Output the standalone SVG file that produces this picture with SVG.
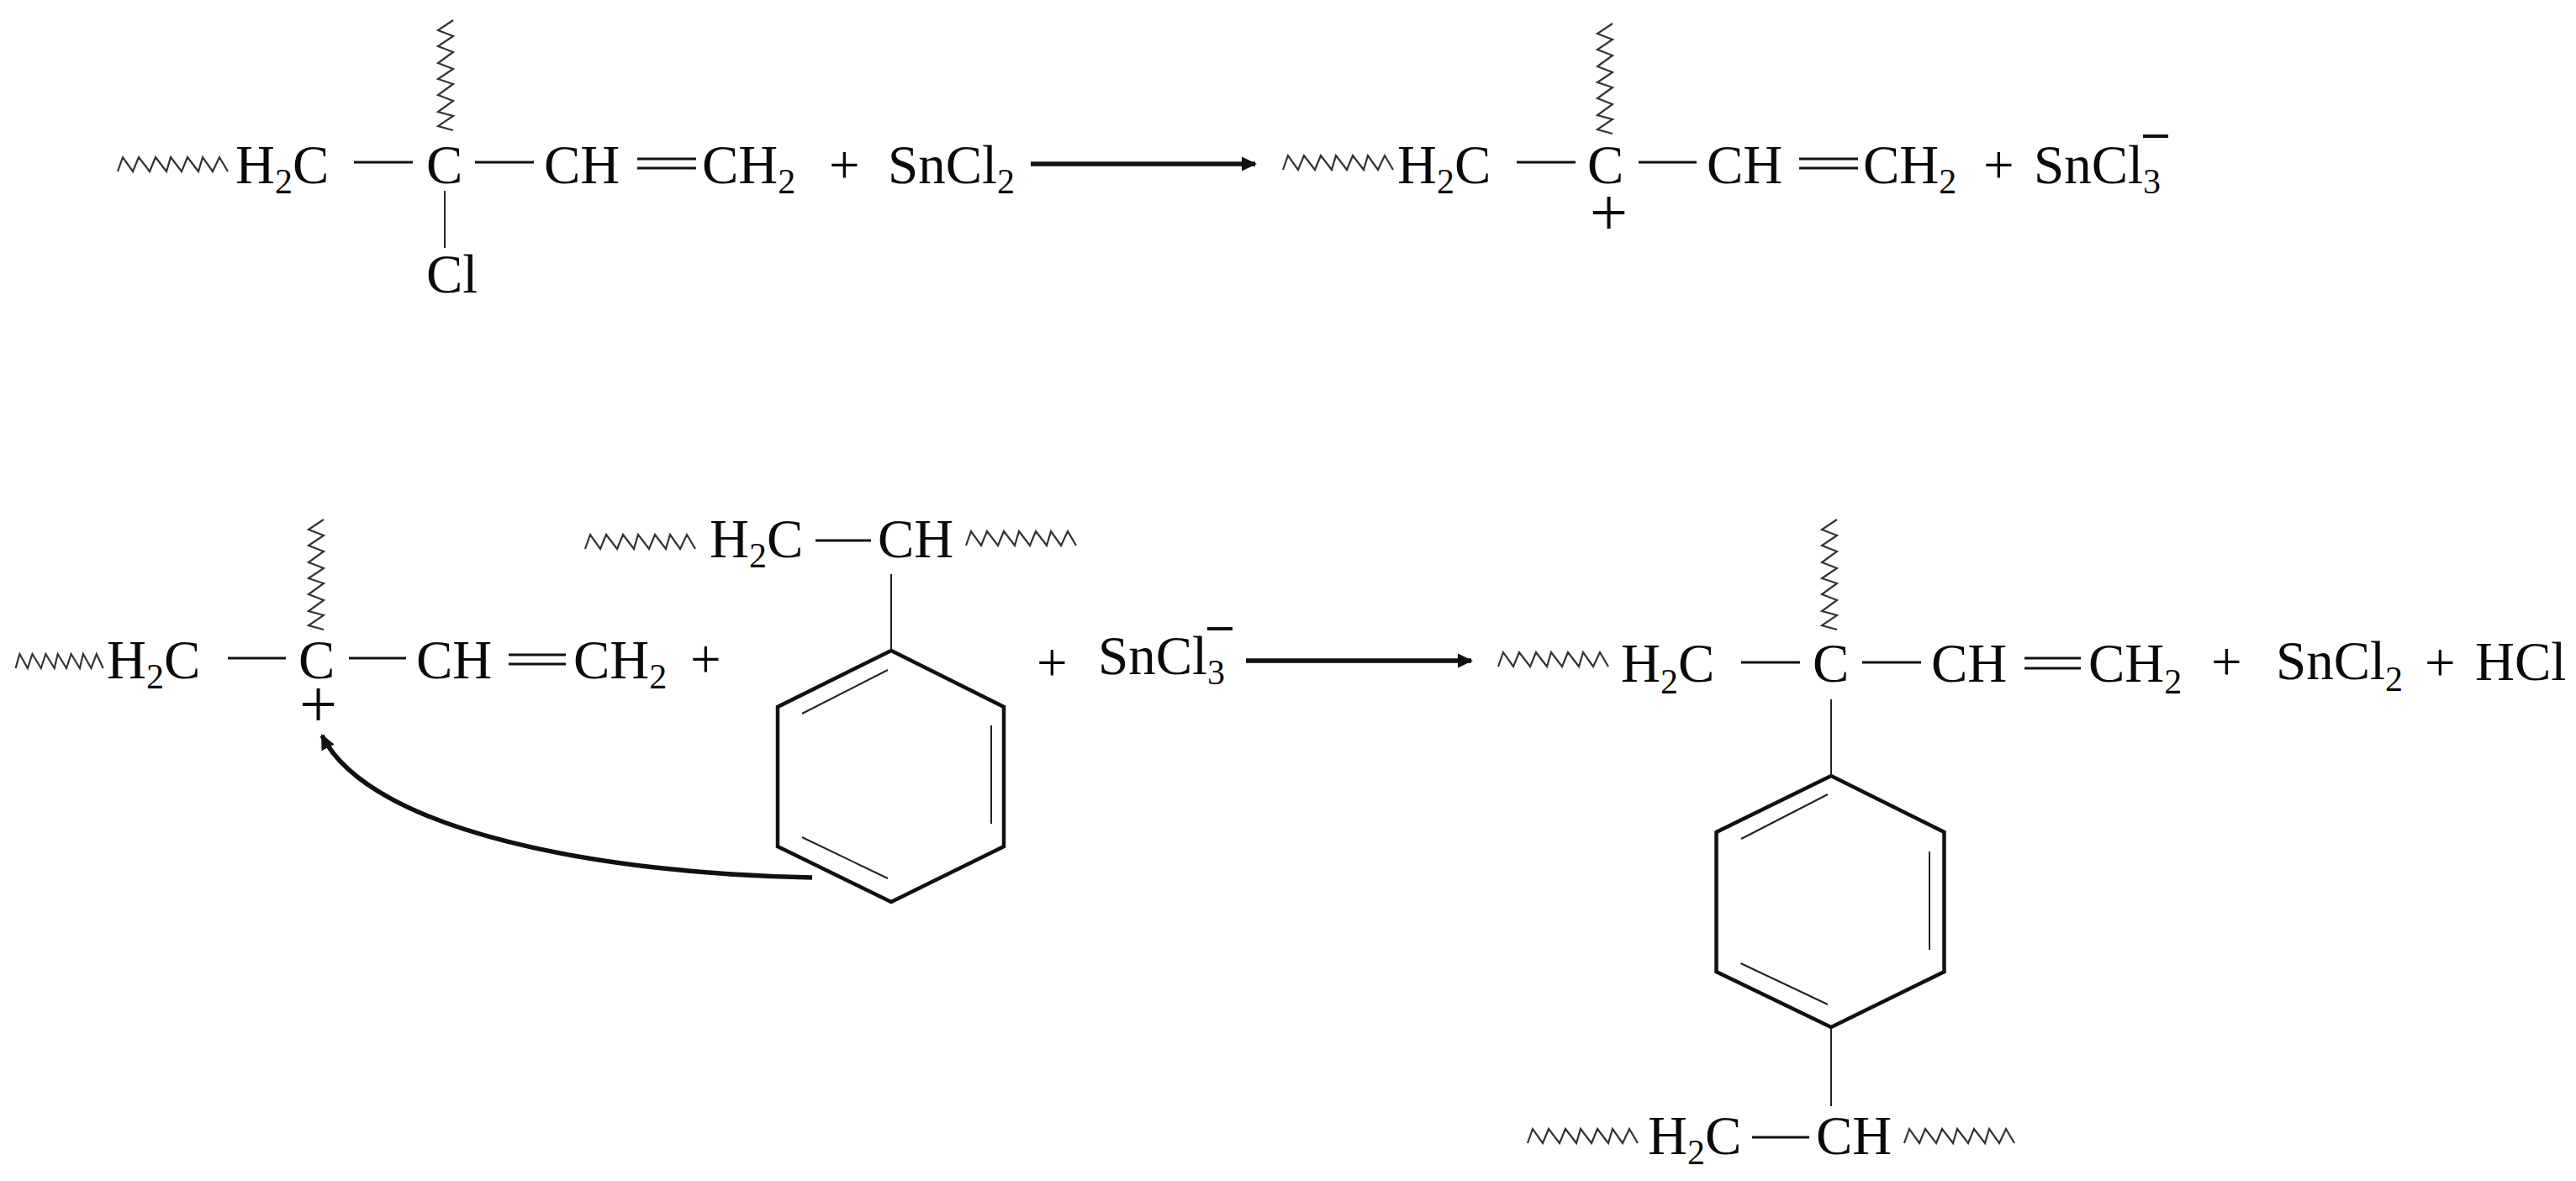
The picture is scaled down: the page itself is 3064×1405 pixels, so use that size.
<svg xmlns="http://www.w3.org/2000/svg" xmlns:xlink="http://www.w3.org/1999/xlink" width="3064" height="1405" viewBox="0 0 3064 1405">
<style>
text{font-family:"Liberation Serif","Times New Roman",serif;font-size:65px;fill:#0a0a0a}
.s{font-size:42px}
.p{font-size:80px}
.b{stroke:#111;stroke-width:3;fill:none}
.t{stroke:#222;stroke-width:2;fill:none}
.r{stroke:#111;stroke-width:4.5;fill:none;stroke-linejoin:miter}
.z{stroke:#333;stroke-width:2.2;fill:none;vector-effect:non-scaling-stroke}
.a{stroke:#111;stroke-width:5.5;fill:none}
.m{stroke:#111;stroke-width:4;fill:none}
</style>
<defs>
<path id="zh" class="z" d="M2 17L8 0L20 17L27 0L40 17L47 0L60 17L65 0L78 17L85 0L98 17L103 0L115 17L123 0L133 17"/>
<path id="zv" class="z" d="M18 0L0 12L18 19L0 31L18 38L0 51L18 58L0 70L18 76L0 89L18 96L0 109L18 114L0 126L18 131"/>
<marker id="ah" markerUnits="userSpaceOnUse" markerWidth="18" markerHeight="18" refX="16" refY="9" orient="auto"><path d="M0 0.5L18 9L0 17.5Z" fill="#111"/></marker>
</defs>

<g id="connectors">
<path class="a" d="M1226 195H1493" marker-end="url(#ah)"/>
<path class="a" d="M1482 786H1750" marker-end="url(#ah)"/>
<path class="a" d="M966 1044C720 1040 440 990 383 875" marker-end="url(#ah)"/>
</g>

<g id="reactant-chloride">
<use xlink:href="#zh" href="#zh" x="138" y="187"/>
<use xlink:href="#zv" href="#zv" x="521" y="24"/>
<text x="280" y="218">H<tspan class="s" dy="12">2</tspan><tspan dy="-12">C</tspan></text>
<path class="b" d="M421 193H491M565 193H635M758 189H828M758 200H828"/>
<path class="t" d="M529 227V295"/>
<text x="507" y="218">C</text>
<text x="647" y="218">CH</text>
<text x="835" y="218">CH<tspan class="s" dy="12">2</tspan></text>
<text x="507" y="348">Cl</text>
</g>
<g id="plus-1"><text x="986" y="218">+</text></g>
<g id="sncl2-1"><text x="1056" y="218">SnCl<tspan class="s" dy="12">2</tspan></text></g>

<g id="product-cation">
<use xlink:href="#zh" href="#zh" x="1524" y="185"/>
<use xlink:href="#zv" href="#zv" x="1900" y="28"/>
<text x="1662" y="218">H<tspan class="s" dy="12">2</tspan><tspan dy="-12">C</tspan></text>
<path class="b" d="M1804 193H1874M1949 193H2018M2140 189H2210M2140 200H2210"/>
<text x="1888" y="218">C</text>
<text x="2030" y="218">CH</text>
<text x="2216" y="218">CH<tspan class="s" dy="12">2</tspan></text>
<text class="p" x="1891" y="280">+</text>
</g>
<g id="plus-2"><text x="2359" y="218">+</text></g>
<g id="sncl3-1">
<text x="2419" y="218">SnCl<tspan class="s" dy="12">3</tspan></text>
<path class="m" d="M2549 162H2579"/>
</g>

<g id="cation-2">
<use xlink:href="#zh" href="#zh" transform="translate(17 778) scale(.795 1)"/>
<use xlink:href="#zv" href="#zv" x="367" y="618"/>
<text x="127" y="807">H<tspan class="s" dy="12">2</tspan><tspan dy="-12">C</tspan></text>
<path class="b" d="M271 783H340M415 783H483M605 779H673M605 790H673"/>
<text x="355" y="807">C</text>
<text x="495" y="807">CH</text>
<text x="682" y="807">CH<tspan class="s" dy="12">2</tspan></text>
<text class="p" x="356" y="865">+</text>
</g>
<g id="plus-3"><text x="821" y="806">+</text></g>

<g id="polystyrene">
<use xlink:href="#zh" href="#zh" x="694" y="636"/>
<use xlink:href="#zh" href="#zh" x="1147" y="632"/>
<text x="844" y="663">H<tspan class="s" dy="12">2</tspan><tspan dy="-12">C</tspan></text>
<path class="b" d="M970 643H1036"/>
<text x="1044" y="663">CH</text>
<path class="t" d="M1060 683V774"/>
<path class="r" d="M1060 774L1194 841V1007L1060 1073L925 1007V841Z"/>
<path class="t" d="M954 849L1056 797M1179 863V980M954 996L1056 1045"/>
</g>
<g id="plus-4"><text x="1233" y="810">+</text></g>
<g id="sncl3-2">
<text x="1306" y="802">SnCl<tspan class="s" dy="12">3</tspan></text>
<path class="m" d="M1436 748H1466"/>
</g>

<g id="product-grafted">
<use xlink:href="#zh" href="#zh" x="1780" y="776"/>
<use xlink:href="#zv" href="#zv" x="2167" y="618"/>
<text x="1928" y="811">H<tspan class="s" dy="14">2</tspan><tspan dy="-14">C</tspan></text>
<path class="b" d="M2071 788H2141M2215 788H2285M2408 783H2475M2408 795H2475"/>
<text x="2156" y="811">C</text>
<text x="2297" y="811">CH</text>
<text x="2484" y="811">CH<tspan class="s" dy="14">2</tspan></text>
<path class="t" d="M2178 832V923M2178 1222V1316"/>
<path class="r" d="M2178 923L2312.5 990V1156L2178 1222L2041.5 1156V990Z"/>
<path class="t" d="M2071 998L2174 945M2295 1013V1130M2070.5 1146L2174 1195"/>
<use xlink:href="#zh" href="#zh" x="1815" y="1343"/>
<use xlink:href="#zh" href="#zh" x="2263" y="1343"/>
<text x="1960" y="1373">H<tspan class="s" dy="12">2</tspan><tspan dy="-12">C</tspan></text>
<path class="b" d="M2084 1353H2152"/>
<text x="2160" y="1373">CH</text>
</g>
<g id="plus-5"><text x="2630" y="809">+</text></g>
<g id="sncl2-2"><text x="2707" y="808">SnCl<tspan class="s" dy="14">2</tspan></text></g>
<g id="plus-6"><text x="2884" y="810">+</text></g>
<g id="hcl"><text x="2944" y="809">HCl</text></g>
</svg>
